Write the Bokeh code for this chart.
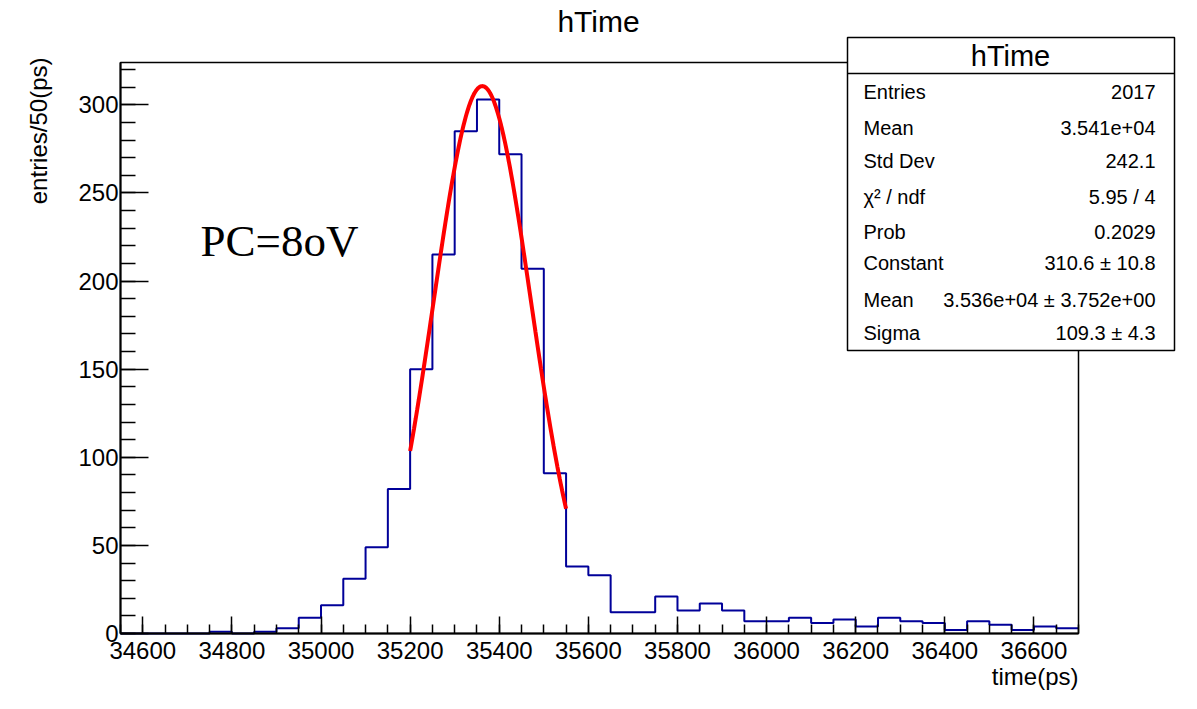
import math
import numpy as np
from bokeh.plotting import figure
from bokeh.models import Label, BoxAnnotation, SingleIntervalTicker, Range1d
from bokeh.embed import file_html
from bokeh.resources import INLINE

# ---------------- data ----------------
bin_lo = 34550
bin_width = 50
counts = [0, 0, 0, 0, 1, 0, 1, 3, 9, 16, 31, 49, 82, 150, 215, 285, 303, 272, 207, 91,
          38, 33, 12, 12, 21, 13, 17, 13, 7, 7, 9, 6, 8, 4, 9, 7, 6, 2, 7, 5, 2, 4, 3]

fit_const = 310.6
fit_mean = 35362.0
fit_sigma = 109.3
fit_lo, fit_hi = 35200, 35550

stat_title = "hTime"
stat_names = ["Entries", "Mean", "Std Dev", "\u03c7\u00b2 / ndf", "Prob", "Constant", "Mean", "Sigma"]
stat_values = ["2017", "3.541e+04", "242.1", "5.95 / 4", "0.2029", "310.6 \u00b1 10.8",
               "3.536e+04 \u00b1 3.752e+00", "109.3 \u00b1 4.3"]

title = "hTime"
x_label = "time(ps)"
y_label = "entries/50(ps)"
note = "PC=8oV"

# ---------------- layout ----------------
X0, X1 = 34550, 36700          # histogram axis range
Y0, Y1 = 0, 324
W, H = 1181, 693
# visible histogram box in figure pixels
FL, FR, FT, FB = 120, 1078, 62, 633


def dx(px):
    return X0 + (px - FL) * (X1 - X0) / (FR - FL)


def dy(py):
    return Y0 + (FB - py) * (Y1 - Y0) / (FB - FT)


# the bokeh frame spans the whole canvas; axes are pinned to the histogram box
p = figure(width=W, height=H, output_backend="svg", toolbar_location=None, title=None,
           x_range=Range1d(dx(0), dx(W)), y_range=Range1d(dy(H), dy(0)),
           min_border=0, min_border_left=0, min_border_right=0,
           min_border_top=0, min_border_bottom=0)
p.xgrid.visible = False
p.ygrid.visible = False
p.outline_line_color = None
p.background_fill_color = "white"
p.border_fill_color = "white"

FONT = "Liberation Sans"

p.xaxis.ticker = SingleIntervalTicker(interval=200, num_minor_ticks=4)
p.yaxis.ticker = SingleIntervalTicker(interval=50, num_minor_ticks=5)
p.xaxis.fixed_location = Y0
p.yaxis.fixed_location = X0
p.xaxis.bounds = (X0, X1)
p.yaxis.bounds = (Y0, Y1)
for ax in (p.xaxis, p.yaxis):
    ax.axis_line_color = "black"
    ax.axis_line_width = 2
    ax.major_tick_line_color = "black"
    ax.minor_tick_line_color = "black"
    ax.major_tick_line_width = 1.5
    ax.minor_tick_line_width = 1.5
    ax.major_tick_out = 0
    ax.minor_tick_out = 0
    ax.major_label_text_font = FONT
    ax.major_label_text_font_size = "24px"
    ax.major_label_text_color = "black"
p.xaxis.major_tick_in = 17
p.xaxis.minor_tick_in = 9
p.yaxis.major_tick_in = 28
p.yaxis.minor_tick_in = 15
p.xaxis.major_label_standoff = 8
p.yaxis.major_label_standoff = 2

# frame of the histogram box
p.add_layout(BoxAnnotation(left=X0, right=X1, bottom=Y0, top=Y1, fill_alpha=0,
                           line_color="black", line_alpha=1.0, line_width=1.5))

# histogram outline
edges = [bin_lo + bin_width * i for i in range(len(counts) + 1)]
p.step(edges, counts + [counts[-1]], mode="after", line_color="#000099", line_width=2)

# fit curve from the fit parameters in the stats box
xf = np.linspace(fit_lo, fit_hi, 200)
yf = fit_const * np.exp(-0.5 * ((xf - fit_mean) / fit_sigma) ** 2)
p.line(xf, yf, line_color="#ff0000", line_width=4)

# title
p.add_layout(Label(x=dx(598), y=dy(21), text=title, text_align="center", text_baseline="middle",
                   text_font=FONT, text_font_size="30px", text_color="black"))
# axis titles
p.add_layout(Label(x=dx(1078), y=dy(676), text=x_label, text_align="right", text_baseline="alphabetic",
                   text_font=FONT, text_font_size="24px", text_color="black"))
p.add_layout(Label(x=dx(38), y=dy(57), text=y_label, text_align="right", text_baseline="middle",
                   angle=math.pi / 2, text_font=FONT, text_font_size="24px", text_color="black"))
# note (inside the histogram box, placed in data coordinates)
p.add_layout(Label(x=dx(200), y=(653 - 252) * 324 / 583, text=note, text_align="left",
                   text_baseline="alphabetic",
                   text_font="Liberation Serif", text_font_size="45px", text_color="black"))

# stats box
p.add_layout(BoxAnnotation(left=dx(847), right=dx(1174), top=dy(37), bottom=dy(350),
                           fill_color="white", fill_alpha=1.0, line_color="black", line_alpha=1.0,
                           line_width=1.5))
p.add_layout(BoxAnnotation(left=dx(847), right=dx(1174), top=dy(73), bottom=dy(73),
                           fill_alpha=0, line_color="black", line_alpha=1.0, line_width=1.5))
p.add_layout(Label(x=dx(1010), y=dy(55), text=stat_title, text_align="center", text_baseline="middle",
                   text_font=FONT, text_font_size="29px", text_color="black"))
row_y = [91, 127, 160, 196, 231, 262, 299, 332]
for name, val, ry in zip(stat_names, stat_values, row_y):
    p.add_layout(Label(x=dx(863), y=dy(ry), text=name, text_align="left", text_baseline="middle",
                       text_font=FONT, text_font_size="20px", text_color="black"))
    p.add_layout(Label(x=dx(1155), y=dy(ry), text=val, text_align="right", text_baseline="middle",
                       text_font=FONT, text_font_size="20px", text_color="black"))

open("out.html", "w").write(file_html(p, INLINE))
